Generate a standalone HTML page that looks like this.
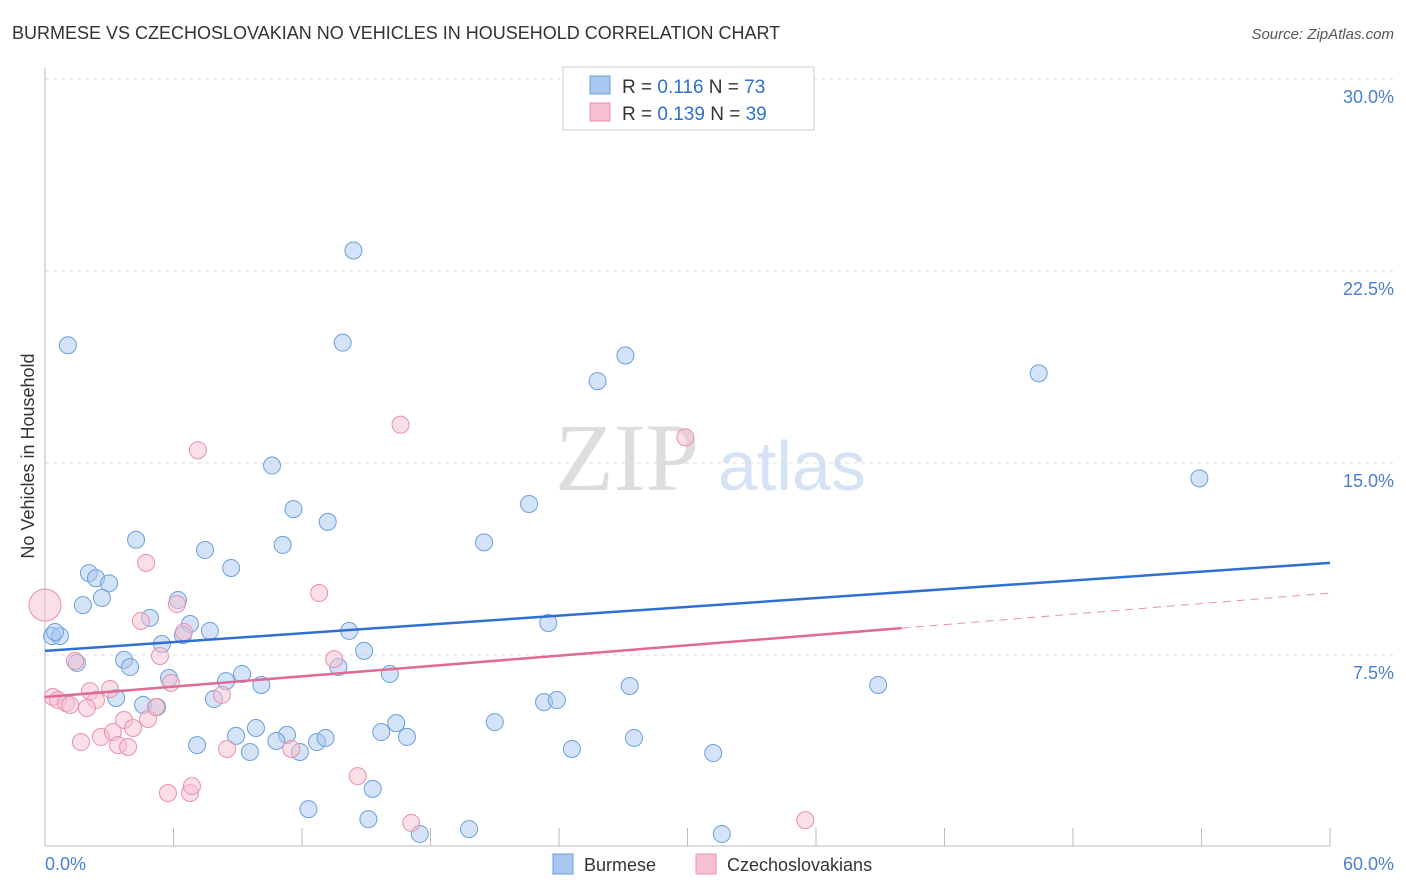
<!DOCTYPE html>
<html><head><meta charset="utf-8">
<style>
body{margin:0;background:#fff;font-family:"Liberation Sans",sans-serif;}
svg{display:block}
</style></head>
<body>
<svg id="chart" width="1406" height="892" xmlns="http://www.w3.org/2000/svg">
<text x="12" y="39" font-size="18" fill="#333">BURMESE VS CZECHOSLOVAKIAN NO VEHICLES IN HOUSEHOLD CORRELATION CHART</text>
<text x="1394" y="39" font-size="15" fill="#555" font-style="italic" text-anchor="end">Source: ZipAtlas.com</text>
<text x="555" y="490" font-size="96" fill="#ddd" font-family="Liberation Serif,serif">ZIP</text>
<text x="718" y="490" font-size="70" fill="#d5e3f5">atlas</text>
<g id="grid"></g>
<line x1="45" y1="68" x2="45" y2="846" stroke="#bbb"/>
<line x1="45" y1="846" x2="1330" y2="846" stroke="#bbb"/>
<text transform="translate(34,456) rotate(-90)" font-size="18" fill="#333" text-anchor="middle">No Vehicles in Household</text>
<text x="45" y="870" font-size="18" fill="#4a7fd4">0.0%</text>
<text x="1394" y="870" font-size="18" fill="#4a7fd4" text-anchor="end">60.0%</text>
<g id="points"></g>
<g id="lines"></g>
<g>
<rect x="563" y="67" width="251" height="63" fill="#fff" stroke="#ccc"/>
<rect x="590" y="76" width="20" height="18" fill="#a9c8f0" stroke="#6a9fdc"/>
<rect x="590" y="103" width="20" height="18" fill="#f7c0d0" stroke="#e890aa"/>
<text x="622" y="93" font-size="19" fill="#333">R = <tspan fill="#2f6fd0">0.116</tspan>   N = <tspan fill="#2f6fd0">73</tspan></text>
<text x="622" y="120" font-size="19" fill="#333">R = <tspan fill="#2f6fd0">0.139</tspan>   N = <tspan fill="#2f6fd0">39</tspan></text>
</g>
<g>
<rect x="553" y="854" width="20" height="20" fill="#a9c8f0" stroke="#6a9fdc"/>
<text x="584" y="871" font-size="18" fill="#333">Burmese</text>
<rect x="696" y="854" width="20" height="20" fill="#f7c0d0" stroke="#e890aa"/>
<text x="727" y="871" font-size="18" fill="#333">Czechoslovakians</text>
</g>
</svg>
<script>
const yTicks=[7.5,15,22.5,30];
const yTickLabels=["7.5%","15.0%","22.5%","30.0%"];
const xTicks=[0,6,12,18,24,30,36,42,48,54,60];
const blueX=[1.07,14.4,13.9,27.1,25.8,46.4,53.9,10.6,11.6,13.2,22.6,4.25,7.47,11.1,20.5,8.69,2.05,2.38,2.99,2.66,1.77,4.90,6.21,6.77,7.70,6.44,5.46,14.2,23.5,0.33,0.70,0.47,1.49,3.69,3.97,14.9,13.7,5.79,9.20,8.45,10.1,16.1,27.3,38.9,3.32,4.58,5.23,7.89,23.3,23.9,9.85,8.92,11.3,16.4,15.7,21.0,7.10,9.57,10.8,11.9,12.7,13.1,16.9,24.6,27.5,31.2,15.3,12.3,15.1,17.5,19.8,31.6];
const blueY=[19.6,23.3,19.7,19.2,18.2,18.5,14.4,14.9,13.2,12.7,13.4,12.0,11.6,11.8,11.9,10.9,10.7,10.5,10.3,9.73,9.45,8.95,9.65,8.71,8.44,8.28,7.93,8.44,8.75,8.24,8.24,8.40,7.19,7.31,7.03,7.66,7.03,6.60,6.76,6.48,6.33,6.76,6.29,6.33,5.82,5.55,5.47,5.78,5.66,5.74,4.65,4.34,4.38,4.84,4.49,4.88,3.98,3.71,4.14,3.71,4.10,4.26,4.30,3.83,4.26,3.67,2.27,1.48,1.09,0.51,0.70,0.51];
const pinkX=[0,0.37,0.61,0.98,1.17,1.40,2.10,2.38,1.96,1.68,2.61,3.04,3.17,3.41,3.88,3.69,4.11,4.81,4.48,4.72,5.37,6.16,6.49,5.18,5.88,7.14,8.26,8.50,5.74,6.77,6.86,11.5,12.8,13.5,14.6,16.6,17.1,29.9,35.5];
const pinkY=[9.45,5.86,5.74,5.62,5.55,7.27,6.09,5.74,5.43,4.10,4.30,6.17,4.49,3.98,3.91,4.96,4.65,5.00,8.83,11.1,7.46,9.49,8.40,5.47,6.41,15.5,5.94,3.83,2.11,2.11,2.38,3.83,9.92,7.34,2.77,16.5,0.94,16.0,1.05];
const blueLine=[0,7.66,60,11.1];
const pinkLine=[0,5.86,40,8.55,60,9.92];
const X=v=>45+v*21.417, Y=v=>847-v*25.6;
const ns="http://www.w3.org/2000/svg";
const grid=document.getElementById('grid'), pts=document.getElementById('points'), lines=document.getElementById('lines');
yTicks.forEach((t,i)=>{
 const l=document.createElementNS(ns,'line');
 
 
 l.setAttribute('x1',45);l.setAttribute('x2',1394);l.setAttribute('y1',Y(t));l.setAttribute('y2',Y(t));
 l.setAttribute('stroke','#ddd');l.setAttribute('stroke-dasharray','4,4');grid.appendChild(l);
 const tx=document.createElementNS(ns,'text');
 
 
 tx.setAttribute('x',1394);tx.setAttribute('y',Y(t)+24);tx.setAttribute('text-anchor','end');
 tx.setAttribute('font-size','18');tx.setAttribute('fill','#4a7fd4');tx.textContent=yTickLabels[i];grid.appendChild(tx);
});
xTicks.forEach(t=>{
 const l=document.createElementNS(ns,'line');
 
 
 l.setAttribute('x1',X(t));l.setAttribute('x2',X(t));l.setAttribute('y1',828);l.setAttribute('y2',846);
 l.setAttribute('stroke','#bbb');grid.appendChild(l);
});
function dot(x,y,r,fill,stroke,name){
 const c=document.createElementNS(ns,'circle');
 
 
 c.setAttribute('cx',X(x));c.setAttribute('cy',Y(y));c.setAttribute('r',r);
 c.setAttribute('fill',fill);c.setAttribute('stroke',stroke);c.setAttribute('stroke-width','1');
 pts.appendChild(c);
}
blueX.forEach((x,i)=>dot(x,blueY[i],8.5,'rgba(169,200,240,0.5)','#6a9fdc','burmese-point'));
pinkX.forEach((x,i)=>dot(x,pinkY[i],i===0?16:8.5,'rgba(247,192,208,0.5)','#e890aa','czech-point'));
dot(25.6,28.5,8,'rgba(200,220,245,0.4)','#cfe0f5','burmese-point');
function seg(a,b,c,d,col,w,dash,name){
 const l=document.createElementNS(ns,'line');
 
 
 l.setAttribute('x1',X(a));l.setAttribute('y1',Y(b));l.setAttribute('x2',X(c));l.setAttribute('y2',Y(d));
 l.setAttribute('stroke',col);l.setAttribute('stroke-width',w);if(dash)l.setAttribute('stroke-dasharray',dash);
 lines.appendChild(l);
}
seg(blueLine[0],blueLine[1],blueLine[2],blueLine[3],'#2f6fd0',2.5,null,'burmese-trendline');
seg(pinkLine[0],pinkLine[1],pinkLine[2],pinkLine[3],'#e06a96',2.5,null,'czech-trendline');
seg(pinkLine[2],pinkLine[3],pinkLine[4],pinkLine[5],'#e890aa',1,'8,6','czech-trendline-extension');
</script>
</body></html>
